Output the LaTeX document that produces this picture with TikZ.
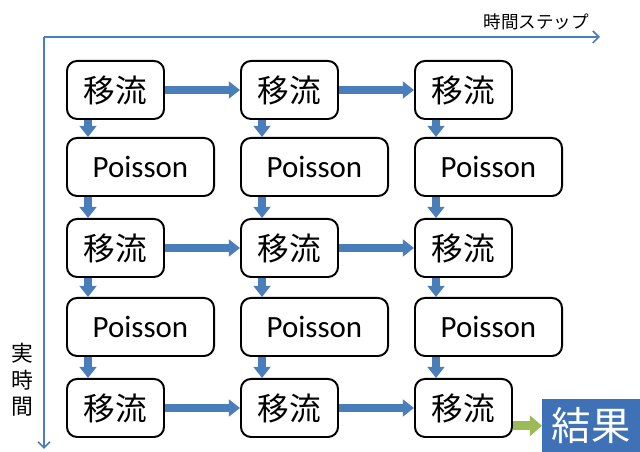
\documentclass[tikz,border=0pt]{standalone}
\usepackage{fontspec}
\setmainfont{Carlito}
\newfontfamily\jpfont{Noto Sans CJK JP}
\usepackage{tikz}
\usetikzlibrary{arrows.meta,positioning}
\definecolor{flowblue}{HTML}{4A7EBB}
\definecolor{resblue}{HTML}{3F71B6}
\definecolor{resgreen}{HTML}{9BBB59}

\begin{document}
\begin{tikzpicture}[x=0.025cm,y=-0.025cm,
  box/.style={draw=black,line width=1.4pt,rounded corners=0.25cm,minimum height=1.45cm,anchor=north west,inner sep=0pt,font=\fontsize{22}{26}\selectfont},
  adv/.style={box,minimum width=2.425cm,font=\jpfont\fontsize{22.5}{26}\selectfont},
  poi/.style={box,minimum width=3.675cm},
  flow/.style={draw=flowblue,line width=5.5pt,-{Triangle[length=0.28cm,width=0.42cm]}},
  endflow/.style={draw=resgreen,line width=6.5pt,-{Triangle[length=0.3cm,width=0.5cm]}},
  axis/.style={draw=flowblue,line width=1.2pt,-{Straight Barb[length=0.15cm,width=0.3cm]}}]
\useasboundingbox (0,0) rectangle (640,452);
% axes
\coordinate (o) at (44,37);
\coordinate (tend) at (600,37);
\coordinate (rend) at (44,449);
\draw[axis] (o) -- (tend);
\draw[axis] (o) -- (rend);
\node[anchor=east,font=\jpfont\fontsize{12.5}{14}\selectfont] (tlabel) at (594,22) {時間ステップ};
\node[align=center,font=\jpfont\fontsize{15.5}{19}\selectfont] (rlabel) at (22,380) {実\\時\\間};
% boxes
\foreach \c/\x in {1/66,2/240,3/414} {
  \node[adv] (a1\c) at (\x,60) {移流};
  \node[poi] (p1\c) at (\x,137) {Poisson};
  \node[adv] (a2\c) at (\x,218) {移流};
  \node[poi] (p2\c) at (\x,297) {Poisson};
  \node[adv] (a3\c) at (\x,378) {移流};
}
\node[fill=resblue,text=white,minimum width=2.45cm,minimum height=1.325cm,anchor=north west,inner sep=0pt,font=\jpfont\fontsize{28}{32}\selectfont] (res) at (542,399) {結果};
% arrows
\foreach \c in {1,2,3} {
  \draw[flow] ([xshift=0.55cm]a1\c.south west) -- ([xshift=0.55cm]p1\c.north west);
  \draw[flow] ([xshift=0.55cm]p1\c.south west) -- ([xshift=0.55cm]a2\c.north west);
  \draw[flow] ([xshift=0.55cm]a2\c.south west) -- ([xshift=0.55cm]p2\c.north west);
  \draw[flow] ([xshift=0.55cm]p2\c.south west) -- ([xshift=0.55cm]a3\c.north west);
}
\foreach \r in {1,2,3} {
  \draw[flow] (a\r1.east) -- (a\r2.west);
  \draw[flow] (a\r2.east) -- (a\r3.west);
}
\draw[endflow] (a33.east |- res.west) -- (res.west);
\end{tikzpicture}
\end{document}
